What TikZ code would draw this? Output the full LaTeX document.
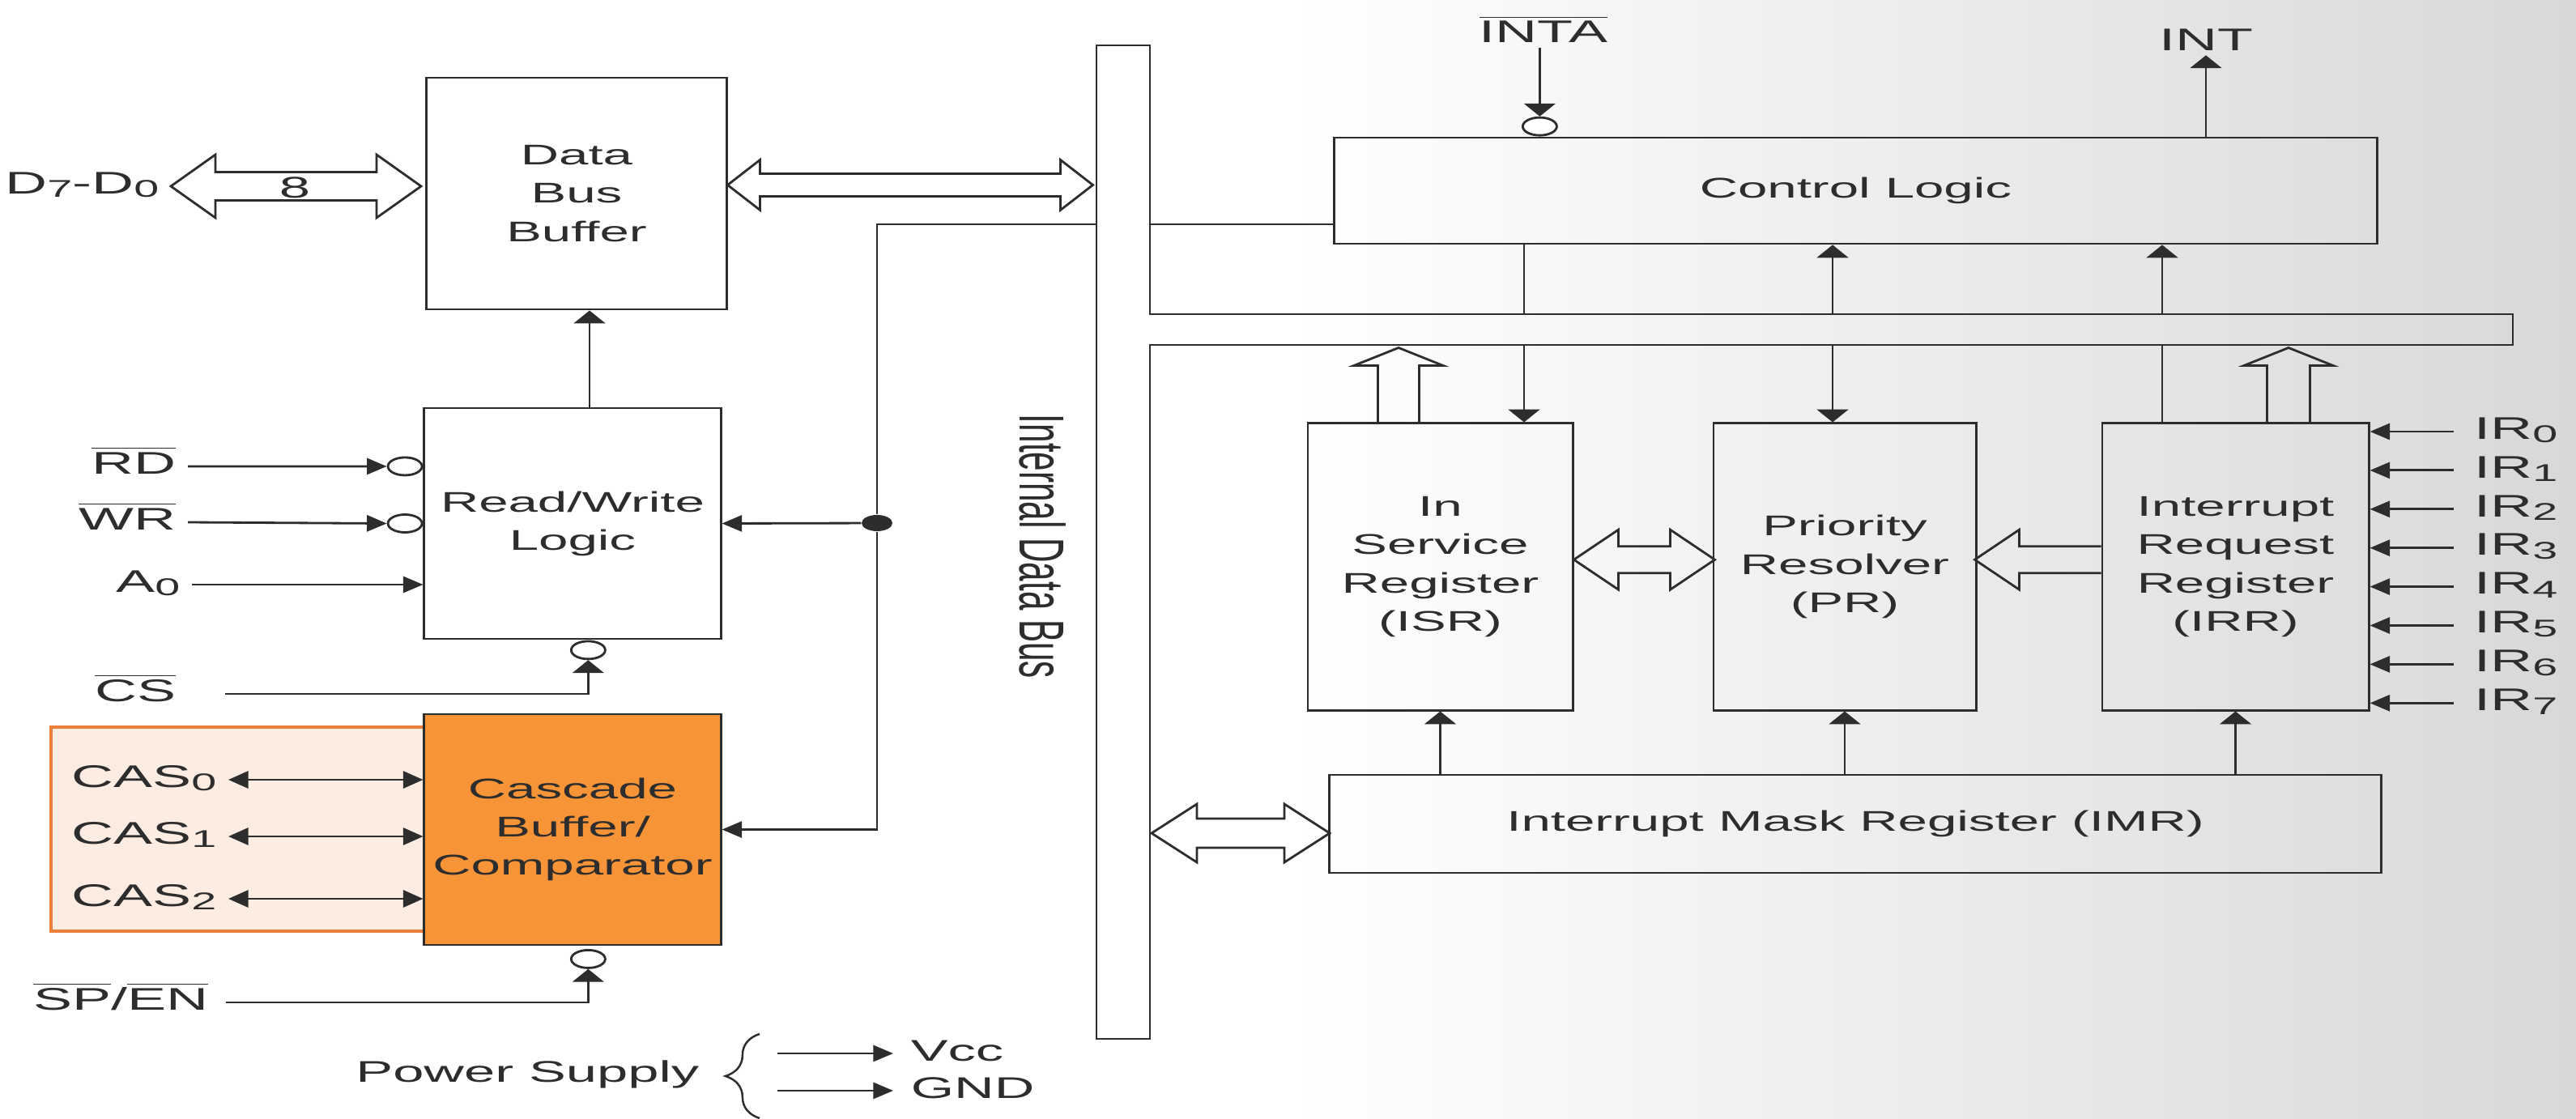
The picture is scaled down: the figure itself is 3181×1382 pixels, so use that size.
\documentclass[tikz,border=0pt]{standalone}
\usepackage{fontspec}
\usepackage{graphicx}
\setmainfont[FakeStretch=1.86]{Liberation Sans}
\newfontfamily\plainsans{Liberation Sans}
\usepackage{xcolor}
\usetikzlibrary{arrows.meta,positioning,shapes.geometric,decorations.pathreplacing}

\definecolor{ink}{RGB}{45,45,45}
\definecolor{bgright}{RGB}{216,216,216}
\definecolor{casorange}{RGB}{247,148,56}
\definecolor{caspale}{RGB}{252,236,226}
\definecolor{casedge}{RGB}{236,128,58}

\newcommand{\subidx}[1]{\raisebox{-1.3pt}{\fontsize{8.5}{9}\selectfont #1}}
\newcommand{\ovl}[1]{$\overline{\hbox{#1}}$}
% wide bus arrow, two heads: start tip, length, head length, head half width, shaft half width
\newcommand{\widedbl}[5]{\draw[wide] #1 -- ++({#3},{-#4}) -- ++(0,{#4-#5}) -- ++({#2-2*#3},0) -- ++(0,{#5-#4}) -- ++({#3},{#4}) -- ++({-#3},{#4}) -- ++(0,{#5-#4}) -- ++({2*#3-#2},0) -- ++(0,{#4-#5}) -- cycle;}
% wide bus arrow pointing up: base centre, length, head length, head half width, shaft half width
\newcommand{\wideup}[5]{\draw[wide] #1 ++({-#5},0) -- ++(0,{-(#2-#3)}) -- ++({#5-#4},0) -- ++({#4},{-#3}) -- ++({#4},{#3}) -- ++({#5-#4},0) -- ++(0,{#2-#3});}

\tikzset{
  blk/.style={draw=ink, line width=0.8pt, align=center, text=ink, inner sep=0pt, font=\fontsize{10}{13.4}\selectfont},
  pin/.style={text=ink, inner xsep=4pt, inner ysep=1.5pt, font=\fontsize{11}{13}\selectfont},
  bub/.style={ellipse, draw=ink, line width=0.8pt, fill=white, minimum width=0.42cm, minimum height=0.22cm, inner sep=0pt},
  wire/.style={draw=ink, line width=0.8pt},
  hsig/.style={wire, -{Triangle[length=7pt,width=5.7pt]}},
  hboth/.style={wire, {Triangle[length=7pt,width=6pt]}-{Triangle[length=7pt,width=6pt]}},
  vsig/.style={wire, -{Triangle[length=4.5pt,width=11pt]}},
  wide/.style={draw=ink, line width=0.8pt, line join=miter},
}

\begin{document}
\begin{tikzpicture}[x=0.01cm, y=-0.01cm]
  \useasboundingbox (0,0) rectangle (3181,1382);
  \shade[left color=white, right color=bgright, middle color=white] (0,0) rectangle (3181,1382);

  % blocks
  \node (dbb) [blk, minimum width=3.70cm, minimum height=2.86cm] at (712,239) {Data\\Bus\\Buffer};
  \node (rwl) [blk, minimum width=3.66cm, minimum height=2.85cm] at (707,646.5) {Read/Write\\Logic};
  \node (casbg) [draw=casedge, line width=1pt, fill=caspale, minimum width=4.61cm, minimum height=2.52cm] at (293.5,1024) {};
  \node (cas) [blk, fill=casorange, minimum width=3.66cm, minimum height=2.85cm] at (707,1024.5) {Cascade\\Buffer/\\Comparator};
  \node (ctl) [blk, minimum width=12.87cm, minimum height=1.31cm] at (2291.5,235.5) {Control Logic};
  \node (isr) [blk, minimum width=3.27cm, minimum height=3.54cm] at (1778.5,700) {In\\Service\\Register\\(ISR)};
  \node (pr) [blk, minimum width=3.24cm, minimum height=3.54cm] at (2278,700) {Priority\\Resolver\\(PR)};
  \node (irr) [blk, minimum width=3.29cm, minimum height=3.54cm] at (2760.5,700) {Interrupt\\Request\\Register\\(IRR)};
  \node (imr) [blk, minimum width=12.98cm, minimum height=1.21cm] at (2291,1017.5) {Interrupt Mask Register (IMR)};

  % internal data bus
  \draw[wire] (1354,56) -- (1420,56) -- (1420,388) -- (3103,388) -- (3103,426) -- (1420,426) -- (1420,1283) -- (1354,1283) -- cycle;
  \node (busname) [rotate=-90, text=ink] at (1288,675) {\scalebox{1}[1.86]{\plainsans\fontsize{12}{14}\selectfont Internal Data Bus}};
  \coordinate (tapL) at (1354,277);
  \coordinate (tapR) at (1420,277);
  \coordinate (tapM) at (1422,1029);
  \coordinate (barT) at (1420,388);
  \coordinate (barB) at (1420,426);

  % left side pins
  \node (dlab) [pin, anchor=mid east] at (211,230) {D\subidx{7}-D\subidx{0}};
  \widedbl{(dlab.mid east)}{309}{55}{39}{17.5}
  \node (eight) [text=ink, font=\fontsize{10.5}{12}\selectfont] at (364,232) {8};
  \widedbl{([yshift=3pt]dbb.east)}{451}{40}{31}{14}

  \node (rdl) [pin, anchor=mid east] at (232,576) {\ovl{RD}};
  \node (wrl) [pin, anchor=mid east] at (232,645) {\ovl{WR}};
  \node (a0l) [pin, anchor=mid east] at (237,722) {A\subidx{0}};
  \node (rdb) [bub, left=0pt of rwl.west, yshift=0.705cm] {};
  \node (wrb) [bub, left=0pt of rwl.west] {};
  \draw[hsig] (rdl.mid east) -- (rdb.west);
  \draw[hsig] (wrl.mid east) -- (wrb.west);
  \draw[hsig] (a0l.mid east) -- (rwl.west |- a0l.mid east);
  \coordinate (rwup) at (728,0);
  \draw[vsig] (rwup |- rwl.north) -- (rwup |- dbb.south);

  \node (csl) [pin, anchor=mid east] at (232,857) {\ovl{CS}};
  \node (csb) [bub, below=0pt of rwl.south, xshift=5.5pt] {};
  \draw[vsig] ([xshift=13pt]csl.mid east) -| (csb.south);

  \foreach \i/\yy in {0/963, 1/1033, 2/1110} {
    \node (cas\i) [pin, anchor=mid east] at (282,\yy) {CAS\subidx{\i}};
    \draw[hboth] (cas\i.mid east) -- (cas.west |- cas\i.mid east);
  }

  \node (spl) [pin, anchor=mid east] at (272,1238) {\ovl{SP}/\ovl{EN}};
  \node (spb) [bub, below=1pt of cas.south, xshift=5.5pt] {};
  \draw[vsig] ([xshift=2pt]spl.mid east) -| (spb.south);

  \node (jn) [ellipse, fill=ink, minimum width=0.38cm, minimum height=0.2cm, inner sep=0pt] at (1083,646) {};
  \draw[wire] (tapL) -| (jn);
  \draw[hsig] (jn) -- (rwl.east);
  \draw[hsig] (jn) |- (cas.east);

  % power supply
  \node (psl) [pin, anchor=mid east, font=\fontsize{10.5}{12}\selectfont] at (878,1327) {Power Supply};
  \draw[ink, line width=0.7pt, decorate, decoration={brace, amplitude=12pt}] (938,1381) -- (938,1277);
  \coordinate (vccS) at (960,1301);
  \coordinate (gndS) at (960,1347);
  \node (vcc) [pin, anchor=mid west, inner xsep=6pt, font=\fontsize{10.5}{12}\selectfont] at (1103,1301) {Vcc};
  \node (gnd) [pin, anchor=mid west, inner xsep=6pt, font=\fontsize{10.5}{12}\selectfont] at (1103,1347) {GND};
  \draw[hsig] (vccS) -- (vcc.mid west);
  \draw[hsig] (gndS) -- (gnd.mid west);

  % control logic side
  \draw[wire] (tapR) -- (ctl.west |- tapR);
  \node (inta) [pin] at (1906,36) {\ovl{INTA}};
  \node (intab) [bub, above=0pt of ctl.north west, xshift=2.55cm] {};
  \draw[vsig] (intab |- inta.south) -- (intab.north);
  \node (intl) [pin] at (2724,49) {INT};
  \draw[vsig] (intl |- ctl.north) -- (intl.south);

  \coordinate (v1) at (1882,0);
  \coordinate (v2) at (2263,0);
  \coordinate (v3) at (2670,0);
  \draw[wire] (v1 |- ctl.south) -- (v1 |- barT);
  \draw[vsig] (v1 |- barB) -- (v1 |- isr.north);
  \draw[vsig] (v2 |- barT) -- (v2 |- ctl.south);
  \draw[vsig] (v2 |- barB) -- (v2 |- pr.north);
  \draw[vsig] (v3 |- barT) -- (v3 |- ctl.south);
  \draw[wire] (v3 |- irr.north) -- (v3 |- barB);

  \coordinate (w1) at (1727,0);
  \coordinate (w2) at (2826,0);
  \wideup{(w1 |- isr.north)}{92}{22}{55}{25.5}
  \wideup{(w2 |- irr.north)}{92}{22}{55}{26.5}

  \widedbl{([yshift=2.5pt]isr.east)}{174}{55}{37}{16.5}
  \draw[wide] ([yshift=2.5pt]irr.west) ++(0,-16.5) -- ++(-101,0) -- ++(0,-20.5) -- ++(-55,37) -- ++(55,37) -- ++(0,-20.5) -- ++(101,0);
  \widedbl{(tapM)}{220}{56}{36}{18}

  \foreach \reg in {isr,pr,irr}
    \draw[vsig] (\reg.south |- imr.north) -- (\reg.south);

  \foreach \i in {0,...,7} {
    \node (ir\i) [pin, anchor=mid west, inner xsep=7pt] at (3030,{533+47.9*\i}) {IR\subidx{\i}};
    \draw[hsig] (ir\i.mid west) -- (irr.east |- ir\i.mid west);
  }
\end{tikzpicture}
\end{document}
